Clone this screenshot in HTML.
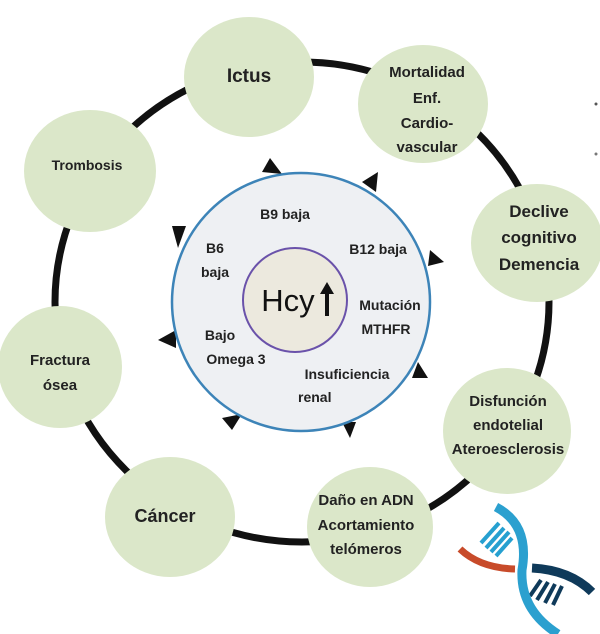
<!DOCTYPE html>
<html><head><meta charset="utf-8"><style>
html,body{margin:0;padding:0;background:#fff;}
svg{display:block;}
text{font-family:"Liberation Sans",sans-serif;font-weight:bold;fill:#222;text-anchor:middle;}
</style></head><body>
<svg width="600" height="634" viewBox="0 0 600 634" xmlns="http://www.w3.org/2000/svg">
<ellipse cx="302" cy="302" rx="247" ry="240" fill="none" stroke="#111" stroke-width="7"/>
<g fill="#dbe7c9">
<ellipse cx="249" cy="77" rx="65" ry="60"/>
<ellipse cx="423" cy="104" rx="65" ry="59"/>
<ellipse cx="90" cy="171" rx="66" ry="61"/>
<ellipse cx="537" cy="243" rx="66" ry="59"/>
<ellipse cx="60" cy="367" rx="62" ry="61"/>
<ellipse cx="507" cy="431" rx="64" ry="63"/>
<ellipse cx="170" cy="517" rx="65" ry="60"/>
<ellipse cx="370" cy="527" rx="63" ry="60"/>
</g>
<g fill="#111">
<polygon points="262,172 270,158 282,174"/>
<polygon points="362,182 378,172 376,192"/>
<polygon points="172,226 186,226 178,248" />
<polygon points="430,250 444,262 428,266"/>
<polygon points="158,340 176,330 176,348"/>
<polygon points="418,362 428,378 412,378"/>
<polygon points="222,418 242,414 232,430"/>
<polygon points="342,422 356,422 350,438"/>
</g>
<circle cx="301" cy="302" r="129" fill="#eef0f3" stroke="#3d84b8" stroke-width="2.5"/>
<circle cx="295" cy="300" r="52" fill="#ece9de" stroke="#6a52aa" stroke-width="2"/>
<text x="288" y="311" style="font-weight:normal;font-size:31px;fill:#111">Hcy</text>
<path d="M327 316 L327 290" stroke="#111" stroke-width="4"/>
<polygon points="320,294 327,282 334,294" fill="#111"/>
<g font-size="14">
<text x="285" y="219">B9 baja</text>
<text x="215" y="253">B6</text>
<text x="215" y="277">baja</text>
<text x="378" y="254">B12 baja</text>
<text x="390" y="310">Mutación</text>
<text x="386" y="334">MTHFR</text>
<text x="220" y="340" >Bajo</text>
<text x="236" y="364">Omega 3</text>
<text x="347" y="379">Insuficiencia</text>
<text x="298" y="402" style="text-anchor:start">renal</text>
</g>
<text x="249" y="82" font-size="19">Ictus</text>
<g font-size="15">
<text x="427" y="77">Mortalidad</text>
<text x="427" y="103">Enf.</text>
<text x="427" y="128">Cardio-</text>
<text x="427" y="152">vascular</text>
<text x="87" y="170" font-size="14">Trombosis</text>
<text x="60" y="365">Fractura</text>
<text x="60" y="390">ósea</text>
<text x="508" y="406">Disfunción</text>
<text x="508" y="430">endotelial</text>
<text x="508" y="454">Ateroesclerosis</text>
<text x="366" y="505">Daño  en ADN</text>
<text x="366" y="530">Acortamiento</text>
<text x="366" y="554">telómeros</text>
</g>
<g font-size="17">
<text x="539" y="217">Declive</text>
<text x="539" y="243">cognitivo</text>
<text x="539" y="270">Demencia</text>
</g>
<text x="165" y="522" font-size="18">Cáncer</text>
<circle cx="596" cy="104" r="1.5" fill="#555"/>
<circle cx="596" cy="154" r="1.5" fill="#777"/>
<g stroke="#26a0d0" stroke-width="4">
<line x1="481" y1="543" x2="499" y2="523"/>
<line x1="486" y1="548" x2="504" y2="528"/>
<line x1="491" y1="552" x2="509" y2="532"/>
<line x1="496" y1="556" x2="512" y2="538"/>
</g>
<g stroke="#0f3a5a" stroke-width="4">
<line x1="541" y1="580" x2="530" y2="596"/>
<line x1="548" y1="582" x2="537" y2="600"/>
<line x1="555" y1="584" x2="545" y2="603"/>
<line x1="562" y1="586" x2="553" y2="605"/>
</g>
<path d="M460 549 Q480 568 515 569" stroke="#c84b2a" stroke-width="7" fill="none"/>
<path d="M532 568 Q570 570 592 592" stroke="#0f3a5a" stroke-width="9" fill="none"/>
<path d="M496 507 Q530 525 522 570 Q520 610 558 634" stroke="#2ba0cf" stroke-width="9" fill="none"/>
</svg>
</body></html>
